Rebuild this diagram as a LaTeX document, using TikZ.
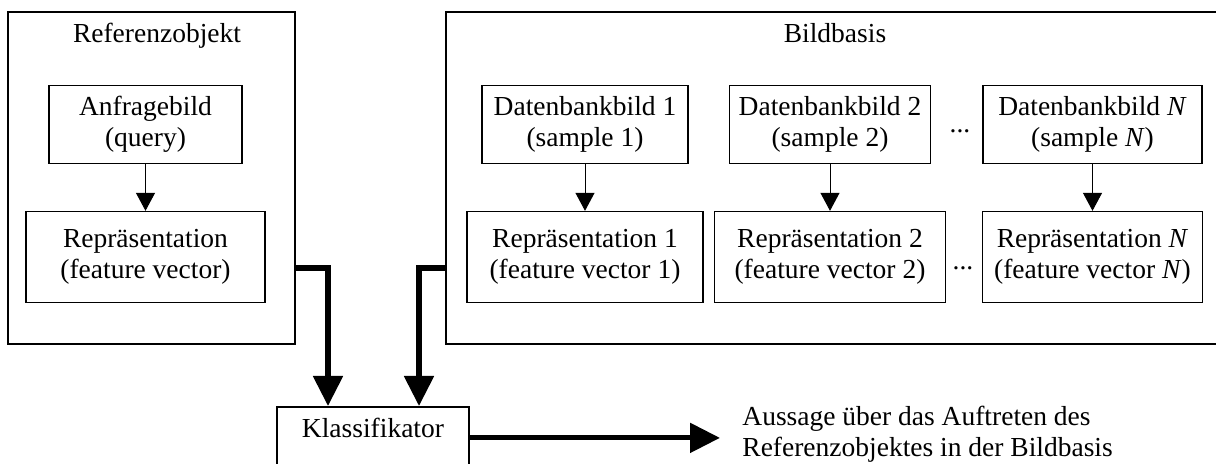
\documentclass[tikz,border=0pt]{standalone}
\usepackage{fontspec}
\setmainfont{Liberation Serif}
\usetikzlibrary{arrows.meta}

\begin{document}
\begin{tikzpicture}[
  x=0.5pt, y=-0.5pt,
  node distance=66.25pt,
  font=\fontsize{13.75pt}{15.5pt}\selectfont,
  frame/.style={draw, line width=0.65pt, inner sep=0pt, minimum height=166pt},
  imgbox/.style={draw, line width=0.65pt, align=center, inner sep=0pt, minimum height=39pt},
  repbox/.style={draw, line width=0.65pt, align=center, inner sep=0pt, minimum height=45.5pt},
  arrow/.style={-{Triangle[length=9pt, width=9.5pt]}, line width=0.5pt},
  bigarrow/.style={-{Triangle[length=15pt, width=14.5pt]}, line width=2.6pt}
]
\clip (0,0) rectangle (1216,464);
\node[frame, minimum width=143.5pt] (ref) at (151.5,178) {};
\node[frame, minimum width=388pt] (base) at (834,178) {};
\node[anchor=base] (reftitle) at (157,43) {Referenzobjekt};
\node[anchor=base] (basetitle) at (835,43) {Bildbasis};
\node[imgbox, minimum width=96.5pt] (query) at (145.5,124.5) {Anfragebild\\(query)};
\node[repbox, minimum width=119.5pt] (repq) [below of=query] {Repräsentation\\(feature vector)};
\node[imgbox, minimum width=103pt] (db1) at (585,124.5) {Datenbankbild 1\\(sample 1)};
\node[repbox, minimum width=118pt] (rep1) [below of=db1] {Repräsentation 1\\(feature vector 1)};
\node[imgbox, minimum width=100.5pt] (db2) at (830,124.5) {Datenbankbild 2\\(sample 2)};
\node[repbox, minimum width=115.5pt] (rep2) [below of=db2] {Repräsentation 2\\(feature vector 2)};
\node[imgbox, minimum width=109.5pt] (dbn) at (1092.5,124.5) {Datenbankbild \textit{N}\\(sample \textit{N})};
\node[repbox, minimum width=110pt] (repn) [below of=dbn] {Repräsentation \textit{N}\\(feature vector \textit{N})};
\node[anchor=base] (dotsup) at (960,133) {...};
\node[anchor=base] (dotslow) at (963,270) {...};
\node[draw, line width=0.9pt, anchor=north, minimum width=96pt, inner xsep=0pt, inner ysep=6pt,
  text height=9.5pt, text depth=30pt] (klass) at (373,406) {Klassifikator};
\node[anchor=north west, align=left, inner xsep=11pt, inner ysep=0pt] (out) at (720,406)
  {Aussage über das Auftreten des\\Referenzobjektes in der Bildbasis};
\draw[arrow] (query) -- (repq);
\draw[arrow] (db1) -- (rep1);
\draw[arrow] (db2) -- (rep2);
\draw[arrow] (dbn) -- (repn);
\draw[bigarrow] ([yshift=-45pt]ref.east) -| ([xshift=-22.5pt]klass.north);
\draw[bigarrow] ([yshift=-45pt]base.west) -| ([xshift=23pt]klass.north);
\draw[bigarrow] (klass.base east) -- (klass.base east -| out.west);
\end{tikzpicture}
\end{document}
